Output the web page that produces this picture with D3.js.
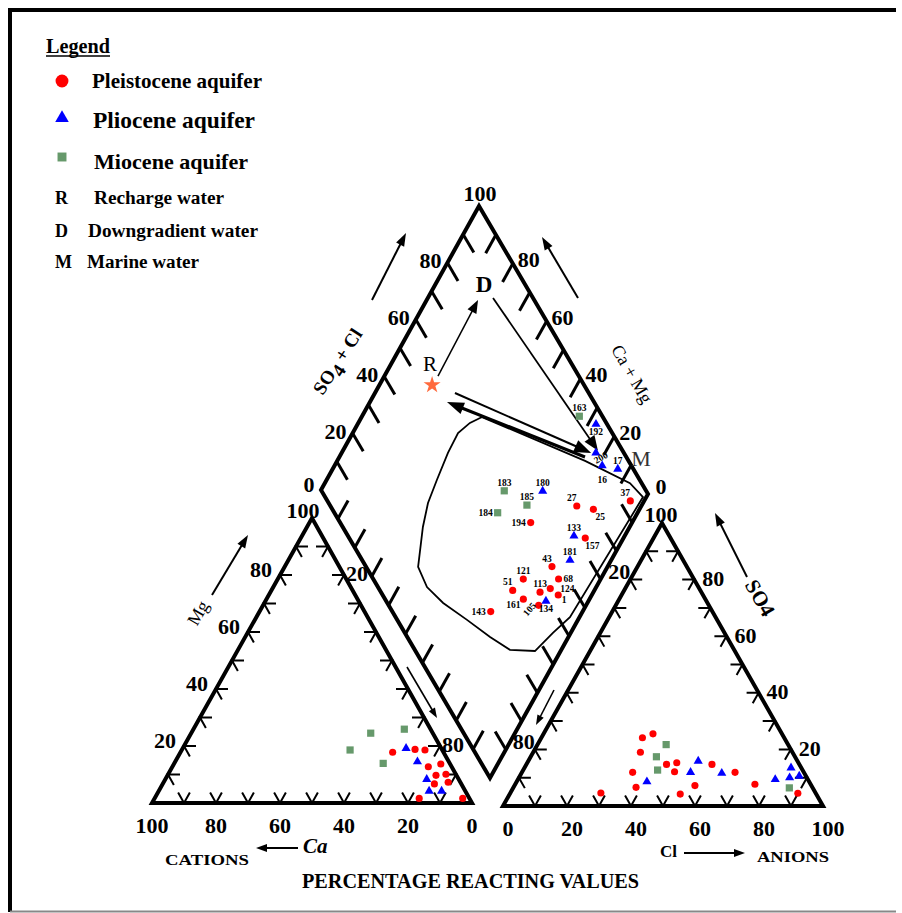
<!DOCTYPE html>
<html>
<head>
<meta charset="utf-8">
<script src="https://cdn.jsdelivr.net/npm/d3@7"></script>
<style>
  body { margin: 0; background: #fff; }
  svg text { font-family: "Liberation Serif", "Times New Roman", serif; }
</style>
</head>
<body>
<svg id="piper"></svg>
<script>
// ---- data (percent of meq/l) ----
// cation triangle: [Ca, Mg]
const catPleistocene = [[15.9,17.8],[8.4,18.8],[5.4,18.6],[7.3,12.7],[2.9,13.7],[6.4,9.7],[3.1,10.1],[8.4,6.7],[3.8,7.3],[15.7,1.6],[2.1,1.6]];
const catPliocene = [[11.0,19.2],[9.8,14.5],[10.0,8.3],[11.3,4.2],[7.4,4.2]];
const catMiocene = [[28.8,18.6],[19.4,24.5],[8.2,25.9],[20.8,13.9]];
// anion triangle: [Cl, SO4]
const anPleistocene = [[31.6,24.1],[34.2,25.5],[33.5,19.0],[34.6,11.9],[38.3,6.6],[28.3,4.6],[43.8,14.7],[46.7,15.3],[47.6,12.1],[53.3,4.2],[56.4,7.2],[58.0,14.7],[66.6,11.9],[74.9,7.7],[89.9,4.5]];
const anPliocene = [[40.7,8.6],[53.1,15.9],[52.7,11.9],[62.6,11.6],[80.4,9.4],[83.3,13.5],[84.6,10.0],[87.3,10.6]];
const anMiocene = [[40.2,21.7],[39.3,17.4],[42.0,12.7],[86.3,6.4]];
// diamond: [sample, aquifer, SO4+Cl, Ca+Mg]
const diamondSamples = [
  ['163','Miocene',92.9,34.0], ['192','Pliocene',96.6,27.6], ['200','Pliocene',91.4,22.8],
  ['16','Pliocene',91.0,18.7], ['17','Pliocene',95.2,13.4], ['37','Pleistocene',93.3,4.2],
  ['27','Pleistocene',75.9,19.6], ['25','Pleistocene',80.4,14.0], ['183','Miocene',56.3,44.2],
  ['180','Pliocene',68.1,32.5], ['185','Miocene',60.7,34.9], ['184','Miocene',50.3,42.5],
  ['194','Pleistocene',58.7,30.8], ['133','Pliocene',69.6,15.4], ['157','Pleistocene',72.7,11.6],
  ['181','Pliocene',64.0,12.5], ['43','Pleistocene',57.3,16.9], ['68','Pleistocene',57.1,12.8],
  ['121','Pleistocene',46.2,23.5], ['51','Pleistocene',40.9,24.8], ['124','Pleistocene',52.8,13.7],
  ['113','Pleistocene',49.0,16.2], ['1','Pleistocene',54.1,10.2], ['161','Pleistocene',42.6,20.1],
  ['105','Pleistocene',46.2,14.4], ['134','Pliocene',49.2,12.9], ['143','Pleistocene',30.3,27.9]
];
// envelope of the samples in the diamond: [SO4+Cl, Ca+Mg]
const envelope = [[62.8,63.4],[58.0,66.1],[52.5,68.0],[45.8,67.7],[37.5,66.5],[30.6,65.3],[24.7,62.8],[16.0,57.5],[15.1,51.4],[17.2,43.8],[21.5,33.7],[25.5,23.8],[29.3,15.6],[36.8,7.8],[45.6,5.4],[53.7,2.9],[97.9,1.0],[96.4,7.3],[86.6,24.7]];
// end members and evolution arrows: [SO4+Cl, Ca+Mg]
const rechargeWater = [53.2, 84.0];
const labelR = [56.3, 88.2], labelD = [87.3, 85.1], labelM = [104.3, 8.2];
const arrowRD = [[56.6,83.7],[82.7,84.4]];
const arrowDM = [[87.7,80.2],[92.4,22.5]];
const arrowRM = [[58.8,75.7],[89.9,24.2]];
const arrowMR = [[87.3,25.4],[54.7,76.6]];
const tickSteps = d3.range(10, 100, 10);
const labelSteps = [0, 20, 40, 60, 80, 100];

// ---- layout ----
const svg = d3.select('#piper').attr('width', 902).attr('height', 913);
const cat = {bl: [152, 803], br: [472, 803], top: [312, 518]};
const an = {bl: [503, 806], br: [823, 806], top: [662, 523]};
const dia = {l: [321, 490], t: [479, 206], r: [648, 494]};
dia.b = [dia.l[0] + dia.r[0] - dia.t[0], dia.l[1] + dia.r[1] - dia.t[1]];

const pct = d3.scaleLinear().domain([0, 100]).range([0, 1]);

function mix(o, p1, p2, a, b) {
  return [o[0] + a * (p1[0] - o[0]) + b * (p2[0] - o[0]), o[1] + a * (p1[1] - o[1]) + b * (p2[1] - o[1])];
}
const catPt = (ca, mg) => mix(cat.br, cat.bl, cat.top, pct(ca), pct(mg));
const anPt = (cl, so4) => mix(an.bl, an.br, an.top, pct(cl), pct(so4));
function diaPt(so4cl, camg) {
  const u = pct(so4cl), w = 1 - pct(camg);
  return [dia.l[0] + u * (dia.t[0] - dia.l[0]) + w * (dia.r[0] - dia.t[0]),
          dia.l[1] + u * (dia.t[1] - dia.l[1]) + w * (dia.r[1] - dia.t[1])];
}
function unit(a, b) {
  const dx = b[0] - a[0], dy = b[1] - a[1], n = Math.hypot(dx, dy);
  return [dx / n, dy / n];
}
const lerp = (a, b, t) => [a[0] + t * (b[0] - a[0]), a[1] + t * (b[1] - a[1])];

function txt(g, x, y, s, o = {}) {
  const t = g.append('text').attr('x', x).attr('y', y).text(s)
    .attr('font-size', o.size || 20)
    .attr('font-weight', o.weight || 'bold')
    .attr('text-anchor', o.anchor || 'start')
    .attr('fill', o.fill || '#000');
  if (o.central) t.attr('dominant-baseline', 'central');
  if (o.italic) t.attr('font-style', 'italic');
  if (o.len) t.attr('textLength', o.len).attr('lengthAdjust', 'spacingAndGlyphs');
  if (o.rot !== undefined) t.attr('transform', `rotate(${o.rot},${x},${y})`);
  return t;
}

function arrow(g, p0, p1, w, head, headW) {
  const d = unit(p0, p1), n = [-d[1], d[0]];
  const base = [p1[0] - d[0] * head, p1[1] - d[1] * head];
  g.append('line').attr('x1', p0[0]).attr('y1', p0[1]).attr('x2', base[0] + d[0]).attr('y2', base[1] + d[1])
    .attr('stroke', '#000').attr('stroke-width', w);
  g.append('path')
    .attr('d', `M${p1[0]},${p1[1]}L${base[0] + n[0] * headW / 2},${base[1] + n[1] * headW / 2}L${base[0] - n[0] * headW / 2},${base[1] - n[1] * headW / 2}Z`)
    .attr('fill', '#000');
}

// ---- frame ----
svg.append('line').attr('x1', 8).attr('y1', 10).attr('x2', 896).attr('y2', 10).attr('stroke', '#000').attr('stroke-width', 4);
svg.append('line').attr('x1', 10).attr('y1', 8).attr('x2', 10).attr('y2', 912).attr('stroke', '#000').attr('stroke-width', 4);
svg.append('line').attr('x1', 10).attr('y1', 911.5).attr('x2', 896).attr('y2', 911.5).attr('stroke', '#888').attr('stroke-width', 2);

// ---- legend ----
const aquifers = {
  Pleistocene: {type: d3.symbolCircle, color: '#ff0000', size: 40, legendSize: 130},
  Pliocene: {type: d3.symbolTriangle, color: '#0000ff', size: 36, legendSize: 80},
  Miocene: {type: d3.symbolSquare, color: '#66996b', size: 52, legendSize: 80}
};
const legend = svg.append('g');
txt(legend, 46, 53, 'Legend', {size: 21, len: 64});
legend.append('line').attr('x1', 46).attr('y1', 56).attr('x2', 110).attr('y2', 56).attr('stroke', '#000').attr('stroke-width', 1.5);
const legendRows = [['Pleistocene', 'Pleistocene  aquifer', 81, 88, 92, 170, 21],
                    ['Pliocene', 'Pliocene  aquifer', 118, 128, 93, 162, 23],
                    ['Miocene', 'Miocene  aquifer', 157, 169, 94, 154, 21]];
legendRows.forEach(r => {
  const a = aquifers[r[0]];
  legend.append('path').attr('d', d3.symbol().type(a.type).size(a.legendSize)())
    .attr('transform', `translate(62,${r[2]})`).attr('fill', a.color);
  txt(legend, r[4], r[3], r[1], {size: r[6], len: r[5]});
});
[['R', 'Recharge water', 204, 94, 130], ['D', 'Downgradient water', 237, 88, 170], ['M', 'Marine water', 268, 87, 112]]
  .forEach(r => {
    txt(legend, 55, r[2], r[0], {size: 18});
    txt(legend, r[3], r[2], r[1], {size: 18, len: r[4]});
  });

// ---- outlines ----
const plot = svg.append('g');
function outline(pts, w) {
  plot.append('path').attr('d', 'M' + pts.map(p => p.join(',')).join('L') + 'Z')
    .attr('fill', 'none').attr('stroke', '#000').attr('stroke-width', w).attr('stroke-linejoin', 'miter');
}
outline([cat.bl, cat.br, cat.top], 4);
outline([an.bl, an.br, an.top], 4);
outline([dia.l, dia.t, dia.r, dia.b], 4);

// ---- triangle chevron ticks ----
function chevrons(pts, d1, d2, len) {
  plot.selectAll(null).data(pts).join('path')
    .attr('d', p => `M${p[0] + d1[0] * len},${p[1] + d1[1] * len}L${p[0]},${p[1]}L${p[0] + d2[0] * len},${p[1] + d2[1] * len}`)
    .attr('fill', 'none').attr('stroke', '#000').attr('stroke-width', 2);
}
chevrons(tickSteps.map(v => catPt(v, 0)), unit(cat.bl, cat.top), unit(cat.br, cat.top), 12);
chevrons(tickSteps.map(v => catPt(100 - v, v)), unit(cat.bl, cat.br), unit(cat.top, cat.br), 12);
chevrons(tickSteps.map(v => catPt(0, v)), unit(cat.br, cat.bl), unit(cat.top, cat.bl), 12);
chevrons(tickSteps.map(v => anPt(v, 0)), unit(an.bl, an.top), unit(an.br, an.top), 12);
chevrons(tickSteps.map(v => anPt(0, v)), unit(an.bl, an.br), unit(an.top, an.br), 12);
chevrons(tickSteps.map(v => anPt(100 - v, v)), unit(an.br, an.bl), unit(an.top, an.bl), 12);

// ---- diamond ticks ----
[[dia.l, dia.t, unit(dia.t, dia.r)], [dia.t, dia.r, unit(dia.t, dia.l)],
 [dia.l, dia.b, unit(dia.l, dia.t)], [dia.r, dia.b, unit(dia.r, dia.t)]].forEach(([a, b, d]) => {
  plot.selectAll(null).data(tickSteps).join('line')
    .attr('x1', v => lerp(a, b, pct(v))[0]).attr('y1', v => lerp(a, b, pct(v))[1])
    .attr('x2', v => lerp(a, b, pct(v))[0] + d[0] * 21).attr('y2', v => lerp(a, b, pct(v))[1] + d[1] * 21)
    .attr('stroke', '#000').attr('stroke-width', 3);
});

// ---- tick labels ----
const lab = svg.append('g');
const big = {size: 22, anchor: 'middle', central: true};
labelSteps.forEach(v => {
  const p = catPt(v, 0); txt(lab, p[0], p[1] + 22, v, big);
  const q = anPt(v, 0); txt(lab, q[0] + 5, q[1] + 22, v, big);
});
[20, 40, 60, 80].forEach(v => {
  const p = catPt(100 - v, v); txt(lab, p[0] - 19, p[1] - 6, v, big);
  const q = anPt(100 - v, v); txt(lab, q[0] + 19, q[1] - 1, v, big);
});
txt(lab, cat.top[0] - 9, cat.top[1] - 8, 100, big);
txt(lab, an.top[0] - 1, an.top[1] - 9, 100, big);
[20, 80].forEach(v => {
  const p = catPt(0, 100 - v); txt(lab, p[0] + 13, p[1] - 2, v, big);
  const q = anPt(0, 100 - v); txt(lab, q[0] - 11, q[1] - 8, v, big);
});
labelSteps.forEach(v => {
  const p = lerp(dia.l, dia.t, pct(v));
  if (v === 100) txt(lab, p[0] + 1, p[1] - 13, v, big);
  else txt(lab, p[0] - (v === 0 ? 12 : 17), p[1] - (v === 0 ? 6 : 2), v, big);
  if (v < 100) {
    const q = lerp(dia.t, dia.r, 1 - pct(v));
    txt(lab, q[0] + (v === 0 ? 13 : 16), q[1] - (v === 0 ? 8 : 4), v, big);
  }
});

// ---- axis titles and arrows ----
const ttl = svg.append('g');
const so4cl = ttl.append('text').attr('transform', 'translate(337,361) rotate(-57)')
  .attr('text-anchor', 'middle').attr('dominant-baseline', 'central').attr('font-size', 19).attr('font-weight', 'bold');
so4cl.append('tspan').text('SO');
so4cl.append('tspan').text('4').attr('dy', 6);
so4cl.append('tspan').text(' + Cl').attr('dy', -6);
txt(ttl, 632, 374, 'Ca + Mg', {size: 18, weight: 'normal', anchor: 'middle', central: true, rot: 60});
txt(ttl, 198, 613, 'Mg', {size: 18, weight: 'normal', anchor: 'middle', central: true, rot: -60});
txt(ttl, 760, 598, 'SO4', {size: 21, anchor: 'middle', central: true, rot: 60});
arrow(ttl, [372, 300], [406, 233], 2, 13, 9);
arrow(ttl, [578, 298], [542, 237], 2, 13, 9);
arrow(ttl, [212, 595], [248, 535], 2, 13, 9);
arrow(ttl, [747, 577], [715, 513], 2, 13, 9);
arrow(ttl, [407, 667], [437, 718], 1.6, 10, 7);
arrow(ttl, [554, 690], [536, 725], 1.6, 10, 7);
arrow(ttl, [298, 848], [256, 848], 2, 11, 8);
arrow(ttl, [684, 853], [745, 853], 2, 11, 8);
txt(ttl, 303, 853, 'Ca', {size: 21, italic: true});
txt(ttl, 660, 857, 'Cl', {size: 17});
txt(ttl, 165, 865, 'CATIONS', {size: 14, len: 84});
txt(ttl, 757, 862, 'ANIONS', {size: 14, len: 72});
txt(ttl, 302, 888, 'PERCENTAGE  REACTING  VALUES', {size: 20, len: 337});

// ---- envelope and evolution arrows in the diamond ----
const line = d3.line().x(d => diaPt(d[0], d[1])[0]).y(d => diaPt(d[0], d[1])[1]);
plot.append('path').attr('d', line(envelope) + 'Z').attr('fill', 'none').attr('stroke', '#000').attr('stroke-width', 1.8);
arrow(plot, diaPt(...arrowRD[0]), diaPt(...arrowRD[1]), 1.5, 13, 10);
arrow(plot, diaPt(...arrowDM[0]), diaPt(...arrowDM[1]), 1.8, 15, 12);
arrow(plot, diaPt(...arrowRM[0]), diaPt(...arrowRM[1]), 2, 17, 13);
arrow(plot, diaPt(...arrowMR[0]), diaPt(...arrowMR[1]), 3.2, 17, 12);
const rp = diaPt(...rechargeWater);
plot.append('path').attr('d', d3.symbol().type(d3.symbolStar).size(90)())
  .attr('transform', `translate(${rp[0]},${rp[1]})`).attr('fill', '#ff6a3d');
let p = diaPt(...labelR); txt(plot, p[0], p[1], 'R', {size: 21, weight: 'normal', anchor: 'middle', central: true});
p = diaPt(...labelD); txt(plot, p[0], p[1], 'D', {size: 23, anchor: 'middle', central: true});
p = diaPt(...labelM); txt(plot, p[0], p[1], 'M', {size: 22, weight: 'normal', anchor: 'middle', central: true, fill: '#333'});

// ---- samples ----
function drawSymbols(rows, aq, proj) {
  const a = aquifers[aq];
  plot.selectAll(null).data(rows).join('path')
    .attr('d', d3.symbol().type(a.type).size(a.size)())
    .attr('transform', d => { const q = proj(d[0], d[1]); return `translate(${q[0]},${q[1]})`; })
    .attr('fill', a.color);
}
drawSymbols(catMiocene, 'Miocene', catPt);
drawSymbols(catPleistocene, 'Pleistocene', catPt);
drawSymbols(catPliocene, 'Pliocene', catPt);
drawSymbols(anMiocene, 'Miocene', anPt);
drawSymbols(anPleistocene, 'Pleistocene', anPt);
drawSymbols(anPliocene, 'Pliocene', anPt);
['Miocene', 'Pleistocene', 'Pliocene'].forEach(aq =>
  drawSymbols(diamondSamples.filter(d => d[1] === aq).map(d => [d[2], d[3]]), aq, diaPt));

// sample number placement around each diamond point
const spots = {
  n: [0, -8, 'middle', 0], s: [0, 8, 'middle', 0], s2: [0, 14, 'middle', 0], se: [7, 8, 'middle', 0],
  ese: [6, 5, 'middle', 0], sw: [-10, 6, 'middle', 0], nw: [-5, -8, 'middle', 0],
  e: [5, 0, 'start', 0], e2: [10, 0, 'start', 0], w: [-5, 0, 'end', 0],
  rs: [5, 5, 'middle', -30], rsw: [-9, 4, 'middle', -50]
};
const labelSpot = {
  '163': 'n', '192': 's', '200': 'rs', '16': 's2', '17': 'n', '37': 'nw', '27': 'nw', '25': 'se',
  '183': 'n', '180': 'n', '185': 'n', '184': 'w', '194': 'w', '133': 'n', '157': 'se', '181': 'n',
  '43': 'nw', '68': 'e', '121': 'n', '51': 'nw', '124': 'e2', '113': 'n', '1': 'ese', '161': 'sw',
  '105': 'rsw', '134': 's', '143': 'w'
};
diamondSamples.forEach(d => {
  const q = diaPt(d[2], d[3]);
  const s = spots[labelSpot[d[0]]];
  txt(plot, q[0] + s[0], q[1] + s[1], d[0], {size: 9.5, anchor: s[2], central: true, rot: s[3]});
});
</script>
</body>
</html>
